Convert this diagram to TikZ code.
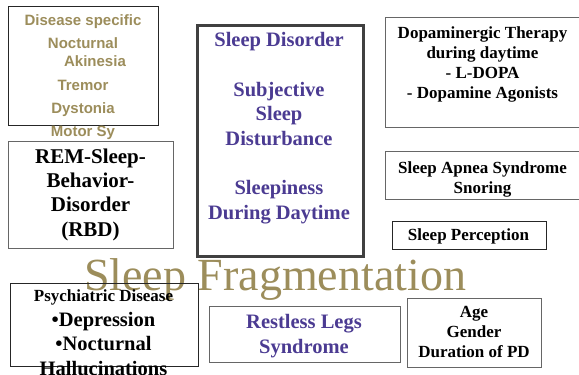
\documentclass[tikz,border=0pt]{standalone}
\usepackage{fontspec}
\setmainfont{Liberation Serif}
\newfontfamily\motorfont{Liberation Sans}
\usepackage{tikz}
\usetikzlibrary{positioning}
\definecolor{olivetxt}{HTML}{9C8D5B}
\definecolor{purpletxt}{HTML}{4B3B92}
\tikzset{
  thinbox/.style={
    rectangle,
    draw=black!85,
    line width=0.9pt,
    anchor=north west,
    inner sep=0pt
  },
  greybox/.style={
    thinbox,
    draw=black!60
  },
  heavybox/.style={
    thinbox,
    draw=black!75,
    line width=2.6pt
  },
  motortext/.style={
    font=\motorfont\bfseries\fontsize{15}{23}\selectfont,
    text=olivetxt,
    align=center,
    anchor=base,
    inner sep=0pt
  },
  sleeptext/.style={
    font=\bfseries\fontsize{20.5}{24.6}\selectfont,
    text=purpletxt,
    align=center,
    anchor=base,
    inner sep=0pt
  },
  factortext/.style={
    font=\bfseries\fontsize{17}{20}\selectfont,
    align=center,
    anchor=base,
    inner sep=0pt
  },
  bigtext/.style={
    font=\bfseries\fontsize{21}{24.2}\selectfont,
    align=center,
    anchor=base,
    inner sep=0pt
  }
}

\begin{document}
\begin{tikzpicture}[x=1pt,y=-1pt]
  \useasboundingbox (0,0) rectangle (579,375);
  \clip (0,0) rectangle (579,375);
  \node[font=\fontsize{46}{50}\selectfont, text=olivetxt, anchor=base, inner sep=0pt] (frag) at (275,290) {Sleep Fragmentation};
  \node[thinbox, minimum width=150pt, minimum height=119pt] (disease) at (8,6) {};
  \node[motortext] (diseasetext) at (83,136.7) {Disease specific\\ Nocturnal\\[-4.3pt] \hspace*{24pt}Akinesia\\[1pt] Tremor\\ Dystonia\\ Motor Sy};
  \node[heavybox, minimum width=166pt, minimum height=231pt] (central) at (196,24) {};
  \node[sleeptext] (centraltext) at (279,219) {Sleep Disorder\\[24.6pt] Subjective\\ Sleep\\ Disturbance\\[24.6pt] Sleepiness\\ During Daytime};
  \node[greybox, minimum width=200pt, minimum height=110pt] (dopa) at (385,16.5) {};
  \node[factortext] (dopatext) at (482.5,98.3) {Dopaminergic Therapy\\ during daytime\\ - L-DOPA\\ - Dopamine Agonists};
  \node[greybox, minimum width=200pt, minimum height=48pt] (apnea) at (385,151) {};
  \node[factortext, font=\bfseries\fontsize{17}{19.5}\selectfont] (apneatext) at (482.5,193.3) {Sleep Apnea Syndrome\\ Snoring};
  \node[thinbox, minimum width=154pt, minimum height=28pt] (perception) at (392,221) {};
  \node[factortext] (perceptiontext) at (468.5,240.7) {Sleep Perception};
  \node[greybox, minimum width=165pt, minimum height=107pt] (rem) at (7.5,140.5) {};
  \node[bigtext] (remtext) at (90.5,236) {REM-Sleep-\\ Behavior-\\ Disorder\\ (RBD)};
  \node[thinbox, minimum width=188pt, minimum height=83pt] (psych) at (9.5,283) {};
  \node[bigtext, font=\bfseries\fontsize{20.5}{24.5}\selectfont] (psychtext) at (103.5,375.3) {{\fontsize{17}{20}\selectfont Psychiatric Disease}\\ •Depression\\ •Nocturnal\\ Hallucinations};
  \node[greybox, minimum width=191pt, minimum height=56pt] (rls) at (208.5,306) {};
  \node[sleeptext] (rlstext) at (304,353.5) {Restless Legs\\ Syndrome};
  \node[greybox, minimum width=134pt, minimum height=69pt] (age) at (407,297.5) {};
  \node[factortext] (agetext) at (474,357) {Age\\ Gender\\ Duration of PD};
\end{tikzpicture}
\end{document}
